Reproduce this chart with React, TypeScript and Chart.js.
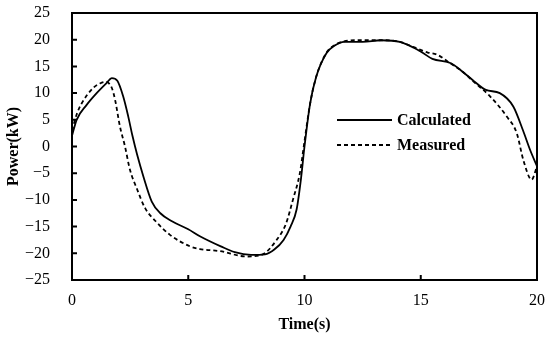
import React, { useEffect, useRef } from "react";
import { Chart, registerables } from "chart.js";

Chart.register(...registerables);

const calcT = [0, 0.2, 0.63, 1.06, 1.49, 1.71, 1.95, 2.2, 2.42, 2.6, 2.8, 3.07, 3.43, 3.8, 4.3, 5.0, 5.5, 6.4, 7.0, 7.7, 8.3, 8.7, 9.1, 9.4, 9.66, 9.85, 10.0, 10.24, 10.5, 10.95, 11.3, 11.7, 12.5, 13.3, 14.1, 14.7, 15.1, 15.5, 16.3, 16.8, 17.3, 17.8, 18.4, 18.98, 19.4, 19.7, 20];
const calcP = [2.0, 5.0, 7.8, 10.0, 11.9, 12.8, 12.3, 9.4, 5.6, 2.0, -1.5, -5.6, -10.3, -12.5, -14.0, -15.5, -16.8, -18.7, -19.8, -20.3, -20.2, -19.3, -17.5, -15.0, -11.8, -6.0, 0.0, 8.0, 13.0, 17.5, 18.9, 19.6, 19.6, 19.9, 19.6, 18.5, 17.5, 16.4, 15.6, 14.0, 12.2, 10.6, 10.0, 7.5, 3.0, -0.6, -3.7];

const measT = [0, 0.2, 0.42, 0.92, 1.2, 1.45, 1.71, 1.85, 2.06, 2.28, 2.49, 2.8, 3.14, 3.6, 4.2, 5.08, 5.5, 6.37, 7.5, 8.2, 8.8, 9.2, 9.5, 9.8, 10.0, 10.24, 10.5, 10.95, 11.3, 11.7, 12.2, 13.5, 14.1, 14.7, 15.3, 15.7, 16.26, 16.8, 17.26, 17.98, 18.7, 19.13, 19.41, 19.77, 20];
const measP = [3.0, 6.0, 8.1, 11.0, 11.8, 12.1, 11.0, 8.8, 3.8, 0.0, -4.3, -8.0, -11.5, -14.0, -16.5, -18.7, -19.2, -19.6, -20.6, -20.2, -17.5, -14.5, -10.0, -5.0, 1.0, 8.0, 13.0, 17.6, 19.0, 19.7, 19.9, 19.9, 19.6, 18.6, 17.6, 17.2, 15.6, 14.0, 12.2, 9.4, 5.6, 2.5, -2.5, -6.2, -3.7];

const seriesLabels = ["Calculated", "Measured"];
const xTicks = [0, 5, 10, 15, 20];
const yTicks = [-25, -20, -15, -10, -5, 0, 5, 10, 15, 20, 25];

const SERIF = "'Liberation Serif', 'Times New Roman', serif";

const framePlugin = {
  id: "frame",
  afterDraw(chart: any) {
    const { ctx, chartArea: a, scales } = chart;
    ctx.save();
    ctx.setLineDash([]);
    ctx.strokeStyle = "#000";
    ctx.lineWidth = 2;
    ctx.beginPath();
    ctx.rect(a.left, a.top, a.right - a.left, a.bottom - a.top);
    ctx.stroke();
    ctx.beginPath();
    for (const v of xTicks) {
      const x = scales.x.getPixelForValue(v);
      ctx.moveTo(x, a.bottom);
      ctx.lineTo(x, a.bottom - 5);
    }
    for (const v of yTicks) {
      const y = scales.y.getPixelForValue(v);
      ctx.moveTo(a.left, y);
      ctx.lineTo(a.left + 5, y);
    }
    ctx.stroke();
    const ds = chart.data.datasets;
    const rows = [120, 145];
    ctx.font = "bold 16px " + SERIF;
    ctx.textBaseline = "middle";
    ctx.textAlign = "left";
    ctx.fillStyle = "#000";
    ds.forEach((d: any, i: number) => {
      const y = rows[i];
      ctx.beginPath();
      ctx.lineWidth = 1.8;
      ctx.setLineDash(d.borderDash || []);
      ctx.moveTo(337, y);
      ctx.lineTo(392, y);
      ctx.stroke();
      ctx.setLineDash([]);
      ctx.fillText(d.label, 397, y + 1);
    });
    ctx.restore();
  },
};

export default function App() {
  const ref = useRef<HTMLCanvasElement | null>(null);
  useEffect(() => {
    if (!ref.current) return;
    const chart = new Chart(ref.current, {
      type: "line",
      data: {
        datasets: [
          {
            label: seriesLabels[0],
            data: calcT.map((t, i) => ({ x: t, y: calcP[i] })),
            borderColor: "#000",
            borderWidth: 1.8,
            pointRadius: 0,
            cubicInterpolationMode: "monotone",
            fill: false,
          },
          {
            label: seriesLabels[1],
            data: measT.map((t, i) => ({ x: t, y: measP[i] })),
            borderColor: "#000",
            borderWidth: 1.8,
            borderDash: [4, 3],
            pointRadius: 0,
            cubicInterpolationMode: "monotone",
            fill: false,
          },
        ],
      },
      options: {
        animation: false,
        responsive: false,
        maintainAspectRatio: false,
        layout: { padding: { top: 13, right: 13, left: 0, bottom: 0 } },
        plugins: { legend: { display: false }, tooltip: { enabled: false } },
        scales: {
          x: {
            type: "linear",
            min: 0,
            max: 20,
            afterBuildTicks: (s: any) => {
              s.ticks = xTicks.map((v) => ({ value: v }));
            },
            afterFit: (s: any) => {
              s.height = 62;
              s.paddingLeft = 0;
              s.paddingRight = 0;
            },
            grid: { display: false },
            border: { display: false },
            ticks: {
              color: "#000",
              padding: 3,
              font: { family: SERIF, size: 16 },
            },
            title: {
              display: true,
              text: "Time(s)",
              color: "#000",
              padding: { top: 0, bottom: 8 },
              font: { family: SERIF, size: 16, weight: "bold" },
            },
          },
          y: {
            type: "linear",
            min: -25,
            max: 25,
            afterBuildTicks: (s: any) => {
              s.ticks = yTicks.map((v) => ({ value: v }));
            },
            afterFit: (s: any) => {
              s.width = 72;
              s.paddingTop = 0;
              s.paddingBottom = 0;
            },
            grid: { display: false },
            border: { display: false },
            ticks: {
              color: "#000",
              padding: 14,
              callback: (v: any) => String(v).replace("-", "\u2212"),
              font: { family: SERIF, size: 16 },
            },
            title: {
              display: true,
              text: "Power(kW)",
              color: "#000",
              padding: { top: 4, bottom: 0 },
              font: { family: SERIF, size: 16, weight: "bold" },
            },
          },
        },
      },
      plugins: [framePlugin],
    } as any);
    return () => chart.destroy();
  }, []);
  return (
    <div style={{ position: "fixed", left: 0, top: 0, width: 550, height: 342, background: "#fff" }}>
      <canvas ref={ref} width={550} height={342} style={{ width: 550, height: 342 }} />
    </div>
  );
}
